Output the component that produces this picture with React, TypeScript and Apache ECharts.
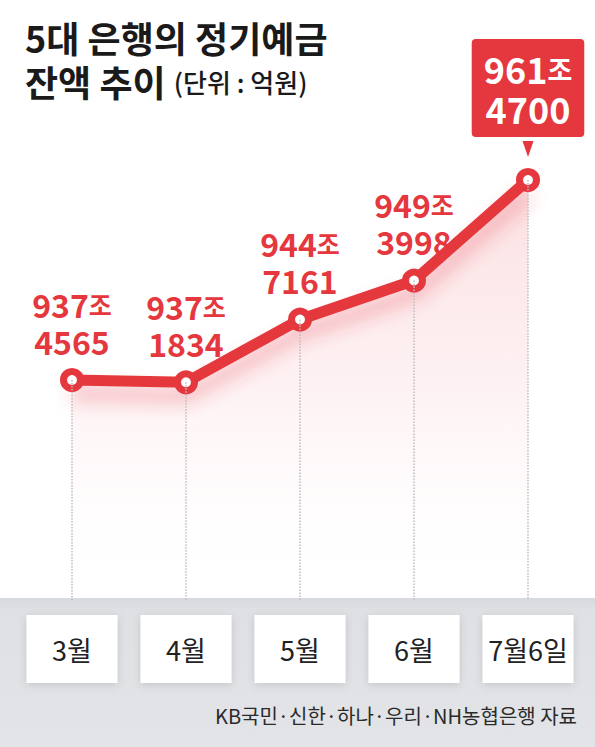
import React, { useEffect, useRef } from "react";
import * as echarts from "echarts";

const categories = ["3월", "4월", "5월", "6월", "7월6일"];
const balances = [9374565, 9371834, 9447161, 9493998, 9614700]; // 억원
const titleLine1 = "5대 은행의 정기예금";
const titleLine2 = "잔액 추이";
const unitText = "(단위 : 억원)";
const sourceText = "KB국민·신한·하나·우리·NH농협은행 자료";

const RED = "#e5373e";
const FONT = "'Noto Sans CJK KR', 'Noto Sans', sans-serif";

function splitValue(v: number) {
  const jo = Math.floor(v / 10000);
  const rest = String(v % 10000).padStart(4, "0");
  return { jo, rest };
}

export default function App() {
  const ref = useRef<HTMLDivElement>(null);
  useEffect(() => {
    document.body.style.margin = "0";
    const chart = echarts.init(ref.current!, null, { renderer: "svg" });
    const last = balances.length - 1;
    const yMax = balances[last];
    const yMin = yMax - (yMax - balances[0]) * (420 / 200);

    const seriesData = balances.map((v, i) => {
      if (i !== last) return v;
      return {
        value: v,
        label: {
          position: "top",
          distance: 31,
          backgroundColor: RED,
          borderRadius: 4,
          padding: [9, 12, 9, 12],
          rich: {
            n: { fontSize: 36, fontWeight: "bold", color: "#fff", lineHeight: 40, fontFamily: FONT },
            u: { fontSize: 27, fontWeight: "bold", color: "#fff", lineHeight: 40, fontFamily: FONT },
          },
        },
      };
    });

    chart.setOption({
      animation: false,
      title: {
        left: 20,
        top: 10,
        text: `${titleLine1}\n${titleLine2} {u|${unitText}}`,
        textStyle: {
          fontFamily: FONT,
          fontSize: 36,
          fontWeight: "bold",
          color: "#1a1a1a",
          lineHeight: 44,
          rich: {
            u: { fontFamily: FONT, fontSize: 26, fontWeight: 500, color: "#1a1a1a", lineHeight: 44 },
          },
        },
      },
      grid: { left: 15, right: 10, top: 180, bottom: 147 },
      xAxis: {
        type: "category",
        data: categories,
        boundaryGap: true,
        z: 10,
        axisLine: { show: false },
        axisTick: { show: false },
        splitLine: { show: false },
        axisLabel: {
          margin: 15,
          fontFamily: FONT,
          fontSize: 27,
          color: "#222",
          width: 91,
          lineHeight: 32,
          padding: [18, 0, 18, 0],
          align: "center",
          backgroundColor: "#fff",
          shadowBlur: 8,
          shadowColor: "rgba(0,0,0,0.12)",
          shadowOffsetY: 2,
        },
      },
      yAxis: { type: "value", min: yMin, max: yMax, show: false },
      graphic: [
        {
          type: "rect",
          z: 1,
          shape: { x: 0, y: 598, width: 595, height: 149 },
          style: {
            fill: new echarts.graphic.LinearGradient(0, 0, 0, 1, [
              { offset: 0, color: "#d6d9dd" },
              { offset: 0.08, color: "#dee0e3" },
              { offset: 1, color: "#e2e4e7" },
            ]),
          },
        },
        {
          type: "text",
          z: 11,
          right: 18,
          top: 705,
          style: { text: sourceText, fontFamily: FONT, fontSize: 20, fill: "#2a2a2a" },
        },
      ],
      series: [
        {
          type: "line",
          data: seriesData,
          z: 3,
          symbol: "circle",
          symbolSize: 17,
          itemStyle: { color: "#fff", borderColor: RED, borderWidth: 7 },
          lineStyle: {
            color: RED,
            width: 11,
            shadowBlur: 18,
            shadowColor: "rgba(225,50,60,0.35)",
            shadowOffsetY: 14,
          },
          areaStyle: {
            color: new echarts.graphic.LinearGradient(0, 0, 0, 1, [
              { offset: 0, color: "rgba(236,90,100,0.28)" },
              { offset: 0.5, color: "rgba(245,160,170,0.2)" },
              { offset: 1, color: "rgba(255,255,255,0)" },
            ]),
          },
          label: {
            show: true,
            position: "top",
            distance: 9,
            align: "center",
            formatter: (p: any) => {
              const { jo, rest } = splitValue(p.value);
              return `{n|${jo}}{u|조}\n{n|${rest}}`;
            },
            rich: {
              n: { fontSize: 32, fontWeight: "bold", color: RED, lineHeight: 37, fontFamily: FONT },
              u: { fontSize: 25, fontWeight: "bold", color: RED, lineHeight: 37, fontFamily: FONT },
            },
          },
          markLine: {
            silent: true,
            symbol: ["none", "none"],
            label: { show: false },
            lineStyle: { type: "dotted", color: "#bdbdbd", width: 1.5 },
            data: balances.map((v, i) => [{ coord: [i, v] }, { coord: [i, yMin] }]),
          },
          markPoint: {
            silent: true,
            symbol: "triangle",
            symbolSize: [11, 16],
            symbolRotate: 180,
            symbolOffset: [0, -31],
            itemStyle: { color: RED },
            label: { show: false },
            data: [{ coord: [last, balances[last]] }],
          },
        },
      ],
    });
    return () => chart.dispose();
  }, []);
  return <div ref={ref} style={{ width: 595, height: 747 }} />;
}
